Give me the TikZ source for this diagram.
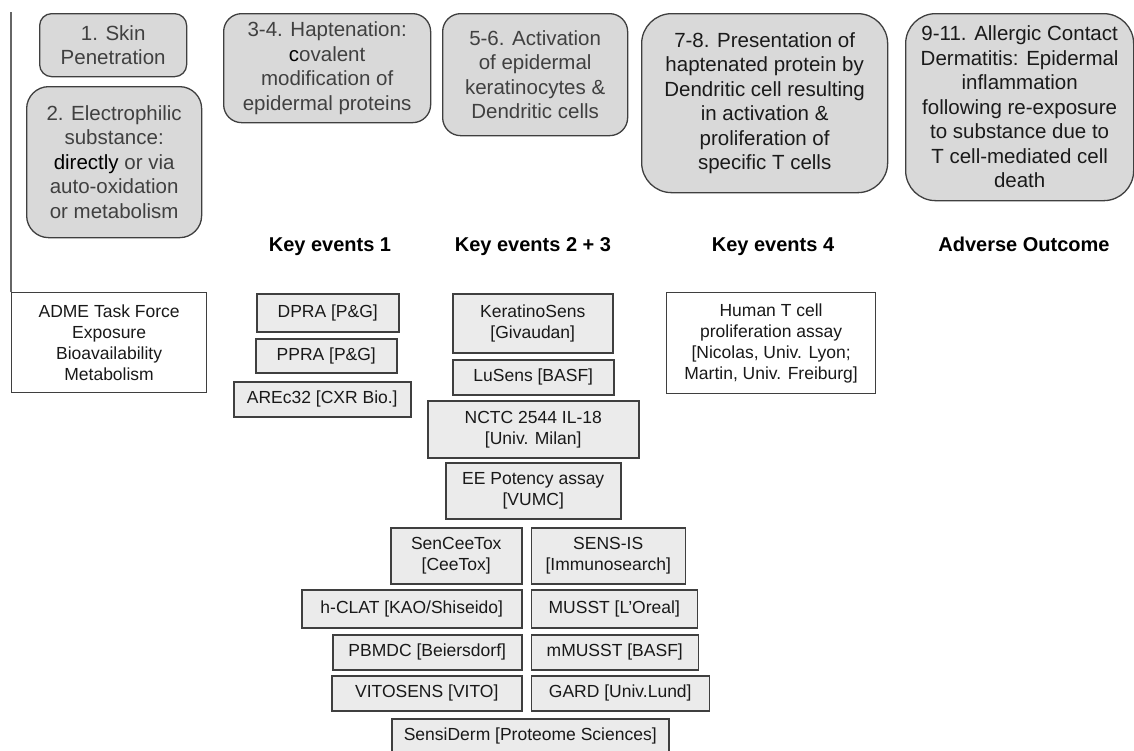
\documentclass[tikz,border=0pt]{standalone}
\usepackage{fontspec}
\setmainfont{Liberation Sans}
\usepackage{tikz}
\usetikzlibrary{positioning}
\definecolor{stagefill}{HTML}{D9D9D9}
\definecolor{assayfill}{HTML}{EBEBEB}
\definecolor{framegray}{HTML}{3F3F3F}
\definecolor{stagetext}{HTML}{404040}
\definecolor{stagedark}{HTML}{1A1A1A}

\begin{document}
\begin{tikzpicture}[x=1pt, y=-1pt,
    stage/.style={draw=framegray, line width=1.3pt, fill=stagefill, align=center, inner sep=0pt,
        anchor=north west, text=stagetext, font=\fontsize{20.5}{24.5}\selectfont},
    assay/.style={draw=framegray, line width=1.5pt, fill=assayfill, align=center, inner sep=0pt,
        anchor=north west, text=black!90, font=\fontsize{17.5}{21}\selectfont},
    source/.style={assay, fill=white, line width=1.2pt},
    keyhead/.style={anchor=base, font=\bfseries\fontsize{20}{24}\selectfont}]
    \useasboundingbox (0,0) rectangle (1134,750);

    % stages along the pathway
    \node[stage, rounded corners=12pt, minimum width=147pt, minimum height=63pt] (skin) at (39,13) {1. Skin\\Penetration};
    \node[stage, rounded corners=22pt, minimum width=175pt, minimum height=151pt] (electro) at (26,86)
        {2. Electrophilic\\substance:\\{\color{black}directly} or via\\auto-oxidation\\or metabolism};
    \node[stage, rounded corners=18pt, minimum width=207pt, minimum height=109pt] (hapten) at (223,13)
        {3-4. Haptenation:\\{\color{black}c}ovalent\\modification of\\epidermal proteins};
    \node[stage, rounded corners=18pt, minimum width=185pt, minimum height=122pt] (activ) at (442,13)
        {5-6. Activation\\of epidermal\\keratinocytes \&\\Dendritic cells};
    \node[stage, text=stagedark, rounded corners=30pt, minimum width=246pt, minimum height=179pt] (present) at (641,13)
        {7-8. Presentation of\\haptenated protein by\\Dendritic cell resulting\\in activation \&\\proliferation of\\specific T cells};
    \node[stage, text=stagedark, rounded corners=30pt, minimum width=228pt, minimum height=187pt] (outcome) at (905,13)
        {9-11. Allergic Contact\\Dermatitis: Epidermal\\inflammation\\following re-exposure\\to substance due to\\T cell-mediated cell\\death};

    \node[keyhead] (ke1) at (330,251) {Key events 1};
    \node[keyhead] (ke23) at (533,251) {Key events 2 + 3};
    \node[keyhead] (ke4) at (773,251) {Key events 4};
    \node[keyhead] (ao) at (1024,251) {Adverse Outcome};

    % assays
    \node[source, minimum width=195pt, minimum height=100pt] (adme) at (11,292)
        {ADME Task Force\\Exposure\\Bioavailability\\Metabolism};
    \coordinate (linetop) at (11,12);
    \draw[black!60, line width=1.5pt] (linetop) -- (adme.north west);

    \node[assay, minimum width=142pt, minimum height=38pt] (dpra) at (256,293) {DPRA [P\&G]};
    \node[assay, minimum width=141pt, minimum height=34pt] (ppra) at (255,338) {PPRA [P\&G]};
    \node[assay, minimum width=177pt, minimum height=35pt] (arec) at (233,381) {AREc32 [CXR Bio.]};

    \node[assay, minimum width=160pt, minimum height=59pt] (kerat) at (452,293) {KeratinoSens\\\relax[Givaudan]};
    \node[assay, minimum width=161pt, minimum height=35pt] (lusens) at (452,359) {LuSens [BASF]};
    \node[assay, minimum width=211pt, minimum height=57pt] (nctc) at (427,400) {NCTC 2544 IL-18\\\relax[Univ. Milan]};
    \node[assay, minimum width=175pt, minimum height=56pt] (ee) at (445,462) {EE Potency assay\\\relax[VUMC]};

    \node[source, minimum width=209pt, minimum height=101pt] (tcell) at (666,292)
        {Human T cell\\proliferation assay\\\relax[Nicolas, Univ. Lyon;\\Martin, Univ. Freiburg]};

    \node[assay, minimum width=131pt, minimum height=56pt] (senc) at (390,527) {SenCeeTox\\\relax[CeeTox]};
    \node[assay, anchor=west, minimum width=154pt, minimum height=56pt] (sensis) [right = 8pt of senc] {SENS-IS\\\relax[Immunosearch]};
    \node[assay, minimum width=220pt, minimum height=38pt] (hclat) at (301,589) {h-CLAT [KAO/Shiseido]};
    \node[assay, anchor=west, minimum width=166pt, minimum height=38pt] (musst) [right = 8pt of hclat] {MUSST [L'Oreal]};
    \node[assay, minimum width=189pt, minimum height=35pt] (pbmdc) at (332,634) {PBMDC [Beiersdorf]};
    \node[assay, anchor=west, minimum width=167pt, minimum height=35pt] (mmusst) [right = 8pt of pbmdc] {mMUSST [BASF]};
    \node[assay, minimum width=190pt, minimum height=35pt] (vito) at (331,675) {VITOSENS [VITO]};
    \node[assay, anchor=west, minimum width=178pt, minimum height=35pt] (gard) [right = 8pt of vito] {GARD [Univ.Lund]};
    \node[assay, minimum width=277pt, minimum height=34pt] (sensiderm) at (391,718) {SensiDerm [Proteome Sciences]};
\end{tikzpicture}
\end{document}
